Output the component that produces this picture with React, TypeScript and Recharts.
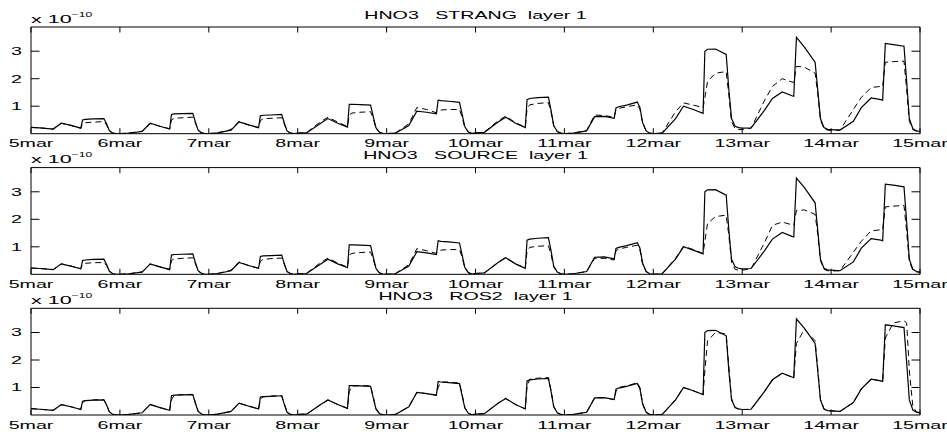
import React from 'react';
import { LineChart, Line, XAxis, YAxis, ReferenceArea } from 'recharts';

const FONT = '"Liberation Sans", Arial, Helvetica, sans-serif';
const SX = 1.87;

const xTicks = [5, 6, 7, 8, 9, 10, 11, 12, 13, 14, 15];
const xTickLabels = ['5mar', '6mar', '7mar', '8mar', '9mar', '10mar', '11mar', '12mar', '13mar', '14mar', '15mar'];
const yTicks = [1, 2, 3];
const yTickLabels = ['1', '2', '3'];

const times = [
  5, 5.1, 5.25, 5.34, 5.45, 5.56, 5.58, 5.61, 5.7, 5.82, 5.85, 5.88, 5.92, 5.96,
  6, 6.1, 6.25, 6.34, 6.45, 6.56, 6.58, 6.61, 6.7, 6.82, 6.85, 6.88, 6.92, 6.96,
  7, 7.1, 7.25, 7.34, 7.45, 7.56, 7.58, 7.61, 7.7, 7.82, 7.85, 7.88, 7.92, 7.96,
  8, 8.1, 8.25, 8.34, 8.45, 8.56, 8.58, 8.61, 8.7, 8.82, 8.85, 8.88, 8.92, 8.96,
  9, 9.1, 9.25, 9.34, 9.45, 9.56, 9.58, 9.61, 9.7, 9.82, 9.85, 9.88, 9.92, 9.96,
  10, 10.1, 10.25, 10.34, 10.45, 10.56, 10.58, 10.61, 10.7, 10.82, 10.85, 10.88, 10.92, 10.96,
  11, 11.1, 11.25, 11.34, 11.45, 11.56, 11.58, 11.61, 11.7, 11.82, 11.85, 11.88, 11.92, 11.96,
  12, 12.1, 12.25, 12.34, 12.45, 12.56, 12.58, 12.61, 12.7, 12.82, 12.85, 12.88, 12.92, 12.96,
  13, 13.1, 13.25, 13.34, 13.45, 13.56, 13.58, 13.61, 13.7, 13.82, 13.85, 13.88, 13.92, 13.96,
  14, 14.1, 14.25, 14.34, 14.45, 14.56, 14.58, 14.61, 14.7, 14.82, 14.85, 14.88, 14.92, 14.96,
  15,
];

// solid line (reference), units of 1e-10
const reference = [
  0.23, 0.21, 0.17, 0.38, 0.30, 0.20, 0.50, 0.52, 0.54, 0.55, 0.36, 0.12, 0.02, 0.00,
  0.00, 0.02, 0.08, 0.38, 0.27, 0.17, 0.70, 0.72, 0.73, 0.74, 0.42, 0.13, 0.03, 0.00,
  0.00, 0.03, 0.13, 0.43, 0.32, 0.22, 0.65, 0.67, 0.68, 0.70, 0.38, 0.10, 0.02, 0.00,
  0.02, 0.03, 0.36, 0.55, 0.38, 0.24, 1.07, 1.07, 1.06, 1.04, 0.62, 0.22, 0.05, 0.01,
  0.00, 0.02, 0.30, 0.82, 0.78, 0.72, 1.22, 1.20, 1.18, 1.14, 0.70, 0.25, 0.06, 0.01,
  0.03, 0.05, 0.42, 0.60, 0.38, 0.22, 1.24, 1.28, 1.31, 1.33, 0.85, 0.30, 0.08, 0.02,
  0.00, 0.02, 0.10, 0.62, 0.63, 0.56, 0.94, 0.98, 1.04, 1.15, 0.95, 0.40, 0.10, 0.02,
  0.00, 0.02, 0.55, 1.00, 0.88, 0.74, 3.00, 3.07, 3.08, 2.88, 1.60, 0.55, 0.27, 0.22,
  0.20, 0.21, 0.85, 1.28, 1.52, 1.38, 1.36, 3.50, 3.15, 2.60, 1.60, 0.55, 0.22, 0.16,
  0.15, 0.13, 0.45, 0.95, 1.30, 1.24, 1.22, 3.28, 3.24, 3.18, 1.90, 0.55, 0.18, 0.10,
  0.08,
];

const strang = [
  0.23, 0.21, 0.17, 0.38, 0.30, 0.20, 0.35, 0.40, 0.42, 0.44, 0.32, 0.10, 0.02, 0.00,
  0.00, 0.02, 0.09, 0.37, 0.27, 0.18, 0.50, 0.56, 0.58, 0.60, 0.38, 0.12, 0.03, 0.00,
  0.00, 0.03, 0.15, 0.45, 0.31, 0.22, 0.48, 0.54, 0.56, 0.58, 0.35, 0.10, 0.02, 0.00,
  0.02, 0.04, 0.42, 0.60, 0.42, 0.26, 0.68, 0.75, 0.78, 0.80, 0.55, 0.20, 0.05, 0.01,
  0.00, 0.03, 0.36, 0.95, 0.88, 0.76, 0.82, 0.86, 0.88, 0.88, 0.60, 0.22, 0.06, 0.01,
  0.03, 0.06, 0.46, 0.64, 0.40, 0.24, 0.90, 1.05, 1.10, 1.13, 0.78, 0.28, 0.08, 0.02,
  0.00, 0.02, 0.12, 0.68, 0.66, 0.60, 0.88, 0.92, 0.98, 1.05, 0.88, 0.38, 0.10, 0.02,
  0.00, 0.03, 0.80, 1.12, 1.04, 0.95, 1.30, 1.90, 2.20, 2.26, 1.40, 0.45, 0.18, 0.15,
  0.15, 0.20, 1.20, 1.72, 2.00, 1.88, 1.86, 2.45, 2.42, 2.20, 1.45, 0.50, 0.18, 0.13,
  0.12, 0.13, 0.88, 1.32, 1.68, 1.72, 1.72, 2.60, 2.62, 2.64, 1.60, 0.45, 0.15, 0.09,
  0.07,
];

const source = [
  0.23, 0.21, 0.17, 0.38, 0.30, 0.20, 0.36, 0.40, 0.42, 0.43, 0.32, 0.10, 0.02, 0.00,
  0.00, 0.02, 0.09, 0.37, 0.27, 0.18, 0.50, 0.56, 0.58, 0.60, 0.38, 0.12, 0.03, 0.00,
  0.00, 0.03, 0.15, 0.45, 0.31, 0.22, 0.48, 0.54, 0.57, 0.59, 0.35, 0.10, 0.02, 0.00,
  0.02, 0.04, 0.41, 0.59, 0.41, 0.26, 0.70, 0.76, 0.79, 0.81, 0.55, 0.20, 0.05, 0.01,
  0.00, 0.03, 0.35, 0.93, 0.86, 0.76, 0.84, 0.88, 0.90, 0.90, 0.62, 0.22, 0.06, 0.01,
  0.03, 0.05, 0.42, 0.62, 0.38, 0.22, 0.85, 0.98, 1.02, 1.04, 0.72, 0.26, 0.07, 0.02,
  0.00, 0.02, 0.10, 0.58, 0.58, 0.52, 0.86, 0.92, 0.98, 1.06, 0.88, 0.36, 0.09, 0.02,
  0.00, 0.02, 0.58, 1.02, 0.90, 0.76, 1.20, 1.85, 2.10, 2.15, 1.40, 0.45, 0.18, 0.15,
  0.15, 0.20, 1.15, 1.78, 1.90, 1.80, 1.78, 2.32, 2.34, 2.18, 1.45, 0.50, 0.18, 0.13,
  0.12, 0.13, 0.80, 1.20, 1.58, 1.62, 1.62, 2.45, 2.48, 2.50, 1.55, 0.45, 0.15, 0.09,
  0.07,
];

const ros2 = [
  0.23, 0.21, 0.17, 0.38, 0.30, 0.20, 0.45, 0.52, 0.55, 0.56, 0.38, 0.13, 0.02, 0.00,
  0.00, 0.02, 0.08, 0.38, 0.27, 0.17, 0.55, 0.72, 0.74, 0.75, 0.44, 0.14, 0.03, 0.00,
  0.00, 0.03, 0.13, 0.43, 0.32, 0.22, 0.55, 0.66, 0.69, 0.71, 0.40, 0.11, 0.02, 0.00,
  0.02, 0.03, 0.36, 0.55, 0.38, 0.24, 0.85, 1.05, 1.07, 1.06, 0.66, 0.24, 0.05, 0.01,
  0.00, 0.02, 0.30, 0.82, 0.78, 0.72, 1.00, 1.20, 1.20, 1.16, 0.74, 0.27, 0.06, 0.01,
  0.03, 0.05, 0.42, 0.60, 0.38, 0.22, 1.05, 1.30, 1.34, 1.36, 0.90, 0.32, 0.08, 0.02,
  0.00, 0.02, 0.10, 0.62, 0.63, 0.56, 0.85, 1.00, 1.06, 1.17, 1.00, 0.42, 0.10, 0.02,
  0.00, 0.02, 0.55, 1.00, 0.88, 0.74, 1.60, 2.70, 3.00, 2.95, 1.75, 0.60, 0.27, 0.21,
  0.20, 0.21, 0.85, 1.28, 1.52, 1.38, 1.36, 2.60, 3.12, 2.70, 1.70, 0.58, 0.22, 0.16,
  0.15, 0.13, 0.45, 0.95, 1.30, 1.24, 1.22, 2.80, 3.35, 3.42, 3.35, 1.60, 0.30, 0.12,
  0.08,
];

const panelTitles = ['HNO3   STRANG  layer 1', 'HNO3   SOURCE  layer 1', 'HNO3   ROS2  layer 1'];
const panelKeys = ['strang', 'source', 'ros2'];

const data = times.map((t, i) => ({
  t,
  reference: reference[i],
  strang: strang[i],
  source: source[i],
  ros2: ros2[i],
}));

const W = 947;
const H = 432;
const PLOT_LEFT = 31;
const PLOT_RIGHT = 920;
const PLOT_H = 106.7;
const TOPS = [27, 167.6, 308.3];
const Y_MAX = 3.88;
const XH = 20;

function makeXTick(top: number, bottom: number) {
  return (props: any) => {
    const { x, payload } = props;
    const idx = xTicks.indexOf(payload.value);
    return (
      <g>
        <line x1={x} x2={x} y1={bottom} y2={bottom - 5.5} stroke="#000" strokeWidth={1} />
        <line x1={x} x2={x} y1={top} y2={top + 5.5} stroke="#000" strokeWidth={1} />
        <text
          transform={`translate(${x},${bottom + 13.5}) scale(${SX},1)`}
          textAnchor="middle"
          fontSize={10.5}
          fontFamily={FONT}
          fill="#000"
        >
          {xTickLabels[idx]}
        </text>
      </g>
    );
  };
}

function makeYTick() {
  return (props: any) => {
    const { y, payload } = props;
    const idx = yTicks.indexOf(payload.value);
    return (
      <g>
        <line x1={PLOT_LEFT} x2={PLOT_LEFT + 8.5} y1={y} y2={y} stroke="#000" strokeWidth={1} />
        <line x1={PLOT_RIGHT} x2={PLOT_RIGHT - 8.5} y1={y} y2={y} stroke="#000" strokeWidth={1} />
        <text
          transform={`translate(22,${y + 3.8}) scale(${SX},1)`}
          textAnchor="end"
          fontSize={10.5}
          fontFamily={FONT}
          fill="#000"
        >
          {yTickLabels[idx]}
        </text>
      </g>
    );
  };
}

function Panel({ index }: { index: number }) {
  const top = TOPS[index];
  const bottom = top + PLOT_H;
  const key = panelKeys[index];
  return (
    <div style={{ position: 'absolute', left: 0, top: 0, width: W, height: H }}>
      <LineChart
        width={W}
        height={H}
        data={data}
        margin={{ top, right: W - PLOT_RIGHT, bottom: H - bottom - XH, left: 0 }}
      >
        <XAxis
          dataKey="t"
          type="number"
          domain={[5, 15]}
          ticks={xTicks}
          interval={0}
          axisLine={false}
          tickLine={false}
          tickSize={0}
          tickMargin={0}
          height={XH}
          tick={makeXTick(top, bottom)}
          allowDataOverflow
        />
        <YAxis
          type="number"
          domain={[0, Y_MAX]}
          ticks={yTicks}
          interval={0}
          axisLine={false}
          tickLine={false}
          tickSize={0}
          tickMargin={0}
          width={PLOT_LEFT}
          tick={makeYTick()}
          allowDataOverflow
        />
        <ReferenceArea x1={5} x2={15} y1={0} y2={Y_MAX} fill="none" fillOpacity={0} stroke="#000" strokeWidth={1} />
        <Line
          dataKey="reference"
          type="linear"
          stroke="#000"
          strokeWidth={1.2}
          dot={false}
          activeDot={false}
          isAnimationActive={false}
        />
        <Line
          dataKey={key}
          type="linear"
          stroke="#000"
          strokeWidth={1}
          strokeDasharray="6 4"
          dot={false}
          activeDot={false}
          isAnimationActive={false}
        />
      </LineChart>
    </div>
  );
}

export default function App() {
  return (
    <div style={{ position: 'absolute', left: 0, top: 0, width: W, height: H, background: '#fff' }}>
      {[0, 1, 2].map((i) => (
        <Panel key={i} index={i} />
      ))}
      <svg width={W} height={H} style={{ position: 'absolute', left: 0, top: 0, pointerEvents: 'none' }}>
        {TOPS.map((top, i) => (
          <g key={i}>
            <text
              transform={`translate(${(PLOT_LEFT + PLOT_RIGHT) / 2},${top - 8.5}) scale(${SX},1)`}
              textAnchor="middle"
              fontSize={10.5}
              fontFamily={FONT}
              fill="#000"
              style={{ whiteSpace: 'pre' }}
              xmlSpace="preserve"
            >
              {panelTitles[i]}
            </text>
            <text
              transform={`translate(${PLOT_LEFT},${top - 4.5}) scale(${SX},1)`}
              fontSize={11.5}
              fontFamily={FONT}
              fill="#000"
              style={{ whiteSpace: 'pre' }}
              xmlSpace="preserve"
            >
              {'x 10'}
              <tspan fontSize={6.5} dy={-6}>{'−10'}</tspan>
            </text>
          </g>
        ))}
      </svg>
    </div>
  );
}
